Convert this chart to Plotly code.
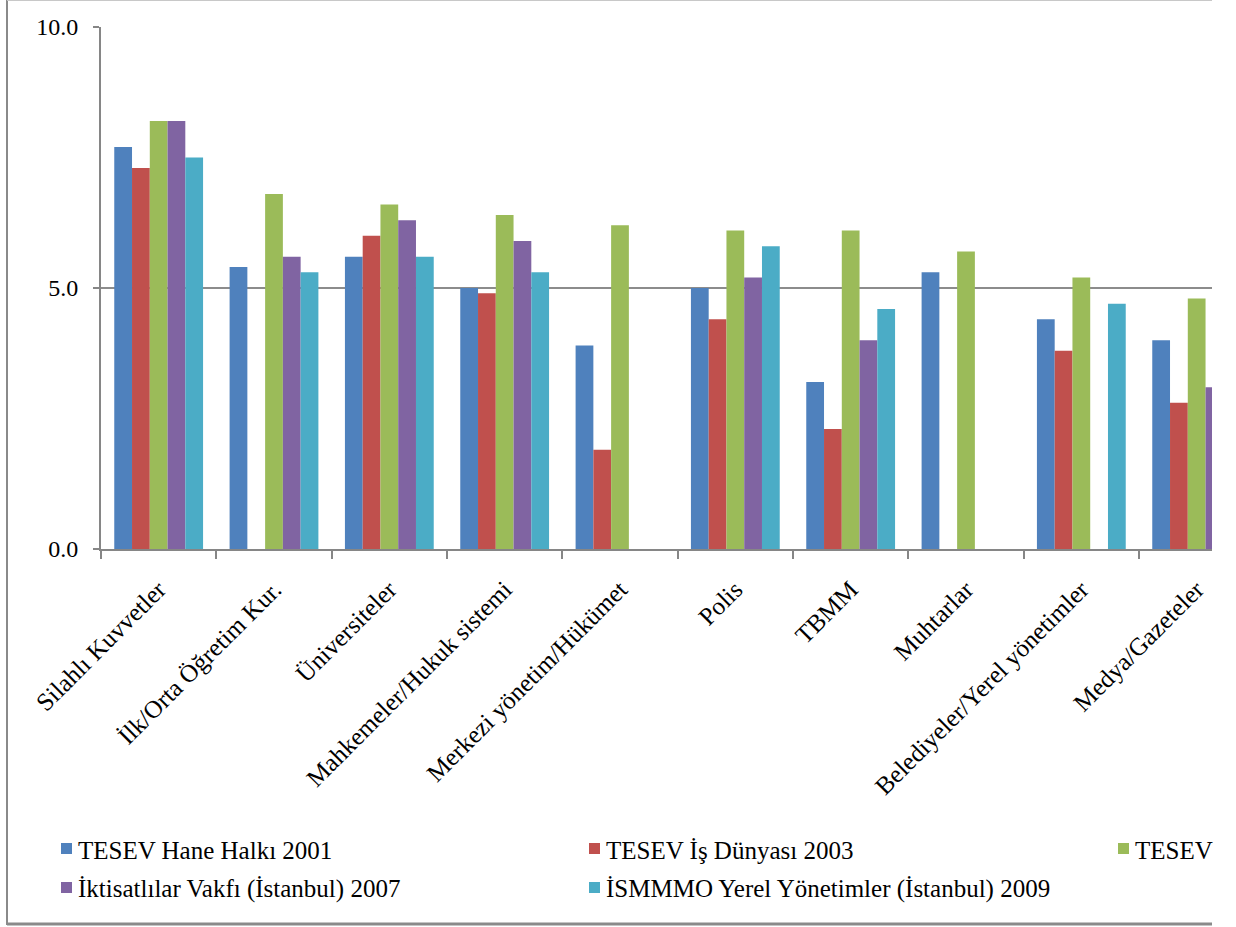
import plotly.graph_objects as go

categories = ["Silahlı Kuvvetler", "İlk/Orta Öğretim Kur.", "Üniversiteler",
              "Mahkemeler/Hukuk sistemi", "Merkezi yönetim/Hükümet", "Polis",
              "TBMM", "Muhtarlar", "Belediyeler/Yerel yönetimler", "Medya/Gazeteler"]

series_names = ["TESEV Hane Halkı 2001", "TESEV İş Dünyası 2003", "TESEV",
                "İktisatlılar Vakfı (İstanbul) 2007",
                "İSMMMO Yerel Yönetimler (İstanbul) 2009"]

tesev_hane_2001 = [7.7, 5.4, 5.6, 5.0, 3.9, 5.0, 3.2, 5.3, 4.4, 4.0]
tesev_is_2003 = [7.3, None, 6.0, 4.9, 1.9, 4.4, 2.3, None, 3.8, 2.8]
tesev_third = [8.2, 6.8, 6.6, 6.4, 6.2, 6.1, 6.1, 5.7, 5.2, 4.8]
iktisat_2007 = [8.2, 5.6, 6.3, 5.9, None, 5.2, 4.0, None, None, 3.1]
ismmmo_2009 = [7.5, 5.3, 5.6, 5.3, None, 5.8, 4.6, None, 4.7, None]

y_ticks = [0, 5, 10]

series_values = [tesev_hane_2001, tesev_is_2003, tesev_third, iktisat_2007, ismmmo_2009]
colors = ["#4F81BD", "#C0504D", "#9BBB59", "#8064A2", "#4BACC6"]

W, H = 1236, 927
L, R, T, B = 101, 1212, 27, 549
FONT = "Liberation Serif"


def px(xp):
    return (xp - L) / (R - L)


def py(yp):
    return (B - yp) / (B - T)


fig = go.Figure()
for name, vals, c in zip(series_names, series_values, colors):
    fig.add_trace(go.Bar(x=categories, y=vals, name=name, marker_color=c,
                         marker_line_width=0, showlegend=False))

cat_w = (1139 - L) / 9.0
xmax = -0.5 + (R - L) / cat_w

fig.update_layout(
    width=W, height=H,
    margin=dict(l=L, r=W - R, t=T, b=H - B, pad=0),
    paper_bgcolor="white", plot_bgcolor="white",
    barmode="group", bargap=0.23, bargroupgap=0,
    font=dict(family=FONT, size=24, color="black"),
    xaxis=dict(type="category", range=[-0.5, xmax], tickson="boundaries",
               ticks="outside", ticklen=8, tickcolor="#868686", tickwidth=2,
               showline=True, linecolor="#868686", linewidth=2,
               showgrid=False, tickangle=-45, ticklabelstandoff=14,
               tickfont=dict(family=FONT, size=25, color="black")),
    yaxis=dict(range=[0, 10], tickvals=y_ticks, tickformat=".1f",
               ticks="outside", ticklen=6, tickcolor="#868686", tickwidth=2,
               showline=True, linecolor="#868686", linewidth=2,
               showgrid=True, gridcolor="#8c8c8c", gridwidth=1.5,
               zeroline=False, ticklabelstandoff=10,
               tickfont=dict(family=FONT, size=24, color="black")),
)

shapes = []
fc = "#8a8a8a"
# outer frame (cut at right)
shapes.append(dict(type="line", xref="paper", yref="paper", x0=px(7), x1=px(7),
                   y0=py(0), y1=py(925), line=dict(color=fc, width=2)))
shapes.append(dict(type="line", xref="paper", yref="paper", x0=px(7), x1=px(R),
                   y0=py(0.5), y1=py(0.5), line=dict(color="#c8c8c8", width=1)))
shapes.append(dict(type="line", xref="paper", yref="paper", x0=px(7), x1=px(R),
                   y0=py(924), y1=py(924), line=dict(color=fc, width=3)))

# manual legend
legend_pos = [(61, 848.5), (589, 848.5), (1118, 848.5), (61, 887.5), (589, 887.5)]
annotations = []
for (lx, ly), name, c in zip(legend_pos, series_names, colors):
    shapes.append(dict(type="rect", xref="paper", yref="paper",
                       x0=px(lx), x1=px(lx + 11), y0=py(ly - 5.5), y1=py(ly + 5.5),
                       fillcolor=c, line=dict(width=0)))
    annotations.append(dict(xref="paper", yref="paper", x=px(lx + 15), y=py(ly + 2),
                            text=name, showarrow=False, xanchor="left", yanchor="middle",
                            font=dict(family=FONT, size=25, color="black")))

fig.update_layout(shapes=shapes, annotations=annotations)
fig.write_html("out.html")
